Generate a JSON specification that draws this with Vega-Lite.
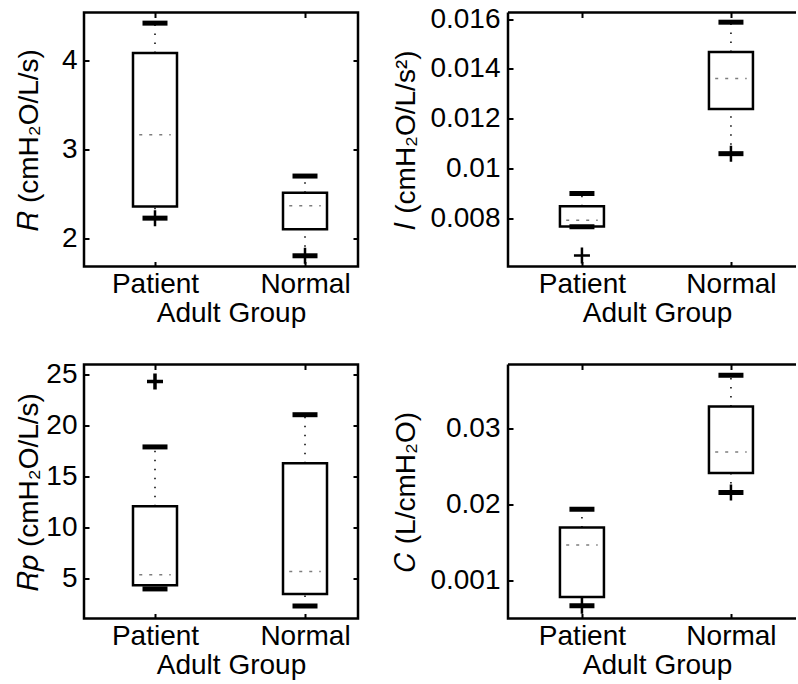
{
  "$schema": "https://vega.github.io/schema/vega-lite/v6.json",
  "background": "white",
  "padding": {"left": 13, "top": 3.5, "right": 0, "bottom": 0},
  "datasets": {
    "boxes": [
      {"panel": "R", "group": "Patient", "lo": 2.233, "q1": 2.364, "med": 3.165, "q3": 4.082, "hi": 4.415},
      {"panel": "R", "group": "Normal", "lo": 1.812, "q1": 2.11, "med": 2.372, "q3": 2.518, "hi": 2.704},
      {"panel": "I", "group": "Patient", "lo": 0.00765, "q1": 0.00766, "med": 0.00791, "q3": 0.00847, "hi": 0.00899},
      {"panel": "I", "group": "Normal", "lo": 0.01059, "q1": 0.01239, "med": 0.01361, "q3": 0.01468, "hi": 0.01588},
      {"panel": "Rp", "group": "Patient", "lo": 3.95, "q1": 4.31, "med": 5.34, "q3": 12.09, "hi": 17.92},
      {"panel": "Rp", "group": "Normal", "lo": 2.27, "q1": 3.46, "med": 5.66, "q3": 16.31, "hi": 21.09},
      {"panel": "C", "group": "Patient", "lo": 0.00662, "q1": 0.0078, "med": 0.01465, "q3": 0.01697, "hi": 0.01938},
      {"panel": "C", "group": "Normal", "lo": 0.02158, "q1": 0.02416, "med": 0.02692, "q3": 0.03293, "hi": 0.03705}
    ],
    "outliers": [
      {"panel": "R", "group": "Patient", "value": 2.233},
      {"panel": "R", "group": "Normal", "value": 1.812},
      {"panel": "I", "group": "Patient", "value": 0.00649},
      {"panel": "I", "group": "Normal", "value": 0.01059},
      {"panel": "Rp", "group": "Patient", "value": 24.35},
      {"panel": "C", "group": "Patient", "value": 0.00662},
      {"panel": "C", "group": "Normal", "value": 0.02158}
    ]
  },
  "config": {
    "font": "Liberation Sans",
    "view": {"stroke": "black", "strokeWidth": 2.5},
    "axis": {
      "labelFont": "Liberation Sans",
      "titleFont": "Liberation Sans",
      "labelFontSize": 28,
      "titleFontSize": 28,
      "labelColor": "black",
      "titleColor": "black",
      "titleFontWeight": "normal",
      "gridColor": "black",
      "gridWidth": 2,
      "gridOpacity": 1,
      "ticks": false,
      "tickSize": 0,
      "domain": false,
      "grid": true
    }
  },
  "concat": [
    {
      "width": 274, "height": 254,
      "layer": [
        {
          "data": {"name": "boxes"},
          "transform": [{"filter": "datum.panel === 'R'"}],
          "encoding": {
            "x": {"field": "group", "type": "nominal", "sort": ["Patient", "Normal"],
                  "scale": {"type": "point", "padding": 0.4133, "align": 0.5726},
                  "axis": {"title": "Adult Group", "labelAngle": 0, "gridDash": [5, 244, 5, 0], "labelPadding": 26, "labelBaseline": "alphabetic", "titleX": 147, "titleY": 55, "titleBaseline": "alphabetic", "titleAlign": "center"}}
          },
          "layer": [
            {"mark": {"type": "bar", "width": 44, "fill": "white", "stroke": "black", "strokeWidth": 2.5},
             "encoding": {"y": {"field": "q1", "type": "quantitative", "scale": {"domain": [1.692, 4.534], "nice": false, "zero": false},
                                "axis": {"title": "𝑅 (cmH₂O/L/s)", "values": [2, 3, 4], "format": "d", "gridDash": [5, 264, 5, 0], "labelPadding": 7, "titleX": -55, "titleY": 127, "titleAngle": -90, "titleBaseline": "middle", "titleAlign": "center"}},
                          "y2": {"field": "q3"}}},
            {"mark": {"type": "rule", "color": "black", "strokeWidth": 1.5, "strokeDash": [1.5, 7.5]},
             "encoding": {"y": {"field": "q3", "type": "quantitative"}, "y2": {"field": "hi"}}},
            {"mark": {"type": "rule", "color": "black", "strokeWidth": 1.5, "strokeDash": [1.5, 7.5]},
             "encoding": {"y": {"field": "lo", "type": "quantitative"}, "y2": {"field": "q1"}}},
            {"mark": {"type": "tick", "size": 31.5, "thickness": 0.01, "fill": null, "stroke": "#444", "strokeWidth": 1.5, "strokeDash": [1.5, 8.5]},
             "encoding": {"y": {"field": "med", "type": "quantitative"}}},
            {"mark": {"type": "tick", "size": 25, "thickness": 5, "color": "black", "opacity": 1},
             "encoding": {"y": {"field": "hi", "type": "quantitative"}}},
            {"mark": {"type": "tick", "size": 25, "thickness": 5, "color": "black", "opacity": 1},
             "encoding": {"y": {"field": "lo", "type": "quantitative"}}}
          ]
        },
        {
          "data": {"name": "outliers"},
          "transform": [{"filter": "datum.panel === 'R'"}],
          "mark": {"type": "point", "shape": "M-1,0H1M0,-1V1", "size": 256, "filled": false, "stroke": "black", "strokeWidth": 2.5, "opacity": 1},
          "encoding": {
            "x": {"field": "group", "type": "nominal", "sort": ["Patient", "Normal"]},
            "y": {"field": "value", "type": "quantitative"}
          }
        }
      ]
    },
    {
      "width": 288, "height": 254,
      "view": {"stroke": "black", "strokeWidth": 2.5, "strokeDash": [288, 254, 542, 0]},
      "layer": [
        {
          "data": {"name": "boxes"},
          "transform": [{"filter": "datum.panel === 'I'"}],
          "encoding": {
            "x": {"field": "group", "type": "nominal", "sort": ["Patient", "Normal"],
                  "scale": {"type": "point", "padding": 0.4664, "align": 0.532},
                  "axis": {"title": "Adult Group", "labelAngle": 0, "gridDash": [5, 244, 5, 0], "labelPadding": 26, "labelBaseline": "alphabetic", "titleX": 149, "titleY": 55, "titleBaseline": "alphabetic", "titleAlign": "center"}}
          },
          "layer": [
            {"mark": {"type": "bar", "width": 44, "fill": "white", "stroke": "black", "strokeWidth": 2.5},
             "encoding": {"y": {"field": "q1", "type": "quantitative", "scale": {"domain": [0.00605, 0.01627], "nice": false, "zero": false},
                                "axis": {"title": "𝐼 (cmH₂O/L/s²)", "values": [0.008, 0.01, 0.012, 0.014, 0.016], "format": "~g", "gridDash": [5, 2000], "labelPadding": 8, "titleX": -102, "titleY": 127, "titleAngle": -90, "titleBaseline": "middle", "titleAlign": "center"}},
                          "y2": {"field": "q3"}}},
            {"mark": {"type": "rule", "color": "black", "strokeWidth": 1.5, "strokeDash": [1.5, 7.5]},
             "encoding": {"y": {"field": "q3", "type": "quantitative"}, "y2": {"field": "hi"}}},
            {"mark": {"type": "rule", "color": "black", "strokeWidth": 1.5, "strokeDash": [1.5, 7.5]},
             "encoding": {"y": {"field": "lo", "type": "quantitative"}, "y2": {"field": "q1"}}},
            {"mark": {"type": "tick", "size": 31.5, "thickness": 0.01, "fill": null, "stroke": "#444", "strokeWidth": 1.5, "strokeDash": [1.5, 8.5]},
             "encoding": {"y": {"field": "med", "type": "quantitative"}}},
            {"mark": {"type": "tick", "size": 25, "thickness": 5, "color": "black", "opacity": 1},
             "encoding": {"y": {"field": "hi", "type": "quantitative"}}},
            {"mark": {"type": "tick", "size": 25, "thickness": 5, "color": "black", "opacity": 1},
             "encoding": {"y": {"field": "lo", "type": "quantitative"}}}
          ]
        },
        {
          "data": {"name": "outliers"},
          "transform": [{"filter": "datum.panel === 'I'"}],
          "mark": {"type": "point", "shape": "M-1,0H1M0,-1V1", "size": 256, "filled": false, "stroke": "black", "strokeWidth": 2.5, "opacity": 1},
          "encoding": {
            "x": {"field": "group", "type": "nominal", "sort": ["Patient", "Normal"]},
            "y": {"field": "value", "type": "quantitative"}
          }
        }
      ]
    },
    {
      "width": 274, "height": 254,
      "layer": [
        {
          "data": {"name": "boxes"},
          "transform": [{"filter": "datum.panel === 'Rp'"}],
          "encoding": {
            "x": {"field": "group", "type": "nominal", "sort": ["Patient", "Normal"],
                  "scale": {"type": "point", "padding": 0.4133, "align": 0.5726},
                  "axis": {"title": "Adult Group", "labelAngle": 0, "gridDash": [5, 244, 5, 0], "labelPadding": 26, "labelBaseline": "alphabetic", "titleX": 147, "titleY": 55, "titleBaseline": "alphabetic", "titleAlign": "center"}}
          },
          "layer": [
            {"mark": {"type": "bar", "width": 44, "fill": "white", "stroke": "black", "strokeWidth": 2.5},
             "encoding": {"y": {"field": "q1", "type": "quantitative", "scale": {"domain": [1.04, 26.03], "nice": false, "zero": false},
                                "axis": {"title": "𝑅𝑝 (cmH₂O/L/s)", "values": [5, 10, 15, 20, 25], "gridDash": [5, 264, 5, 0], "labelPadding": 7, "titleX": -55, "titleY": 127, "titleAngle": -90, "titleBaseline": "middle", "titleAlign": "center"}},
                          "y2": {"field": "q3"}}},
            {"mark": {"type": "rule", "color": "black", "strokeWidth": 1.5, "strokeDash": [1.5, 7.5]},
             "encoding": {"y": {"field": "q3", "type": "quantitative"}, "y2": {"field": "hi"}}},
            {"mark": {"type": "rule", "color": "black", "strokeWidth": 1.5, "strokeDash": [1.5, 7.5]},
             "encoding": {"y": {"field": "lo", "type": "quantitative"}, "y2": {"field": "q1"}}},
            {"mark": {"type": "tick", "size": 31.5, "thickness": 0.01, "fill": null, "stroke": "#444", "strokeWidth": 1.5, "strokeDash": [1.5, 8.5]},
             "encoding": {"y": {"field": "med", "type": "quantitative"}}},
            {"mark": {"type": "tick", "size": 25, "thickness": 5, "color": "black", "opacity": 1},
             "encoding": {"y": {"field": "hi", "type": "quantitative"}}},
            {"mark": {"type": "tick", "size": 25, "thickness": 5, "color": "black", "opacity": 1},
             "encoding": {"y": {"field": "lo", "type": "quantitative"}}}
          ]
        },
        {
          "data": {"name": "outliers"},
          "transform": [{"filter": "datum.panel === 'Rp'"}],
          "mark": {"type": "point", "shape": "M-1,0H1M0,-1V1", "size": 256, "filled": false, "stroke": "black", "strokeWidth": 3.5, "opacity": 1},
          "encoding": {
            "x": {"field": "group", "type": "nominal", "sort": ["Patient", "Normal"]},
            "y": {"field": "value", "type": "quantitative"}
          }
        }
      ]
    },
    {
      "width": 288, "height": 254,
      "view": {"stroke": "black", "strokeWidth": 2.5, "strokeDash": [288, 254, 542, 0]},
      "layer": [
        {
          "data": {"name": "boxes"},
          "transform": [{"filter": "datum.panel === 'C'"}],
          "encoding": {
            "x": {"field": "group", "type": "nominal", "sort": ["Patient", "Normal"],
                  "scale": {"type": "point", "padding": 0.4664, "align": 0.532},
                  "axis": {"title": "Adult Group", "labelAngle": 0, "gridDash": [5, 244, 5, 0], "labelPadding": 26, "labelBaseline": "alphabetic", "titleX": 149, "titleY": 55, "titleBaseline": "alphabetic", "titleAlign": "center"}}
          },
          "layer": [
            {"mark": {"type": "bar", "width": 44, "fill": "white", "stroke": "black", "strokeWidth": 2.5},
             "encoding": {"y": {"field": "q1", "type": "quantitative", "scale": {"domain": [0.00495, 0.03847], "nice": false, "zero": false},
                                "axis": {"title": "𝐶 (L/cmH₂O)", "values": [0.01, 0.02, 0.03], "labelExpr": "datum.value < 0.015 ? '0.001' : format(datum.value, '~g')", "gridDash": [5, 2000], "labelPadding": 8, "titleX": -102, "titleY": 127, "titleAngle": -90, "titleBaseline": "middle", "titleAlign": "center"}},
                          "y2": {"field": "q3"}}},
            {"mark": {"type": "rule", "color": "black", "strokeWidth": 1.5, "strokeDash": [1.5, 7.5]},
             "encoding": {"y": {"field": "q3", "type": "quantitative"}, "y2": {"field": "hi"}}},
            {"mark": {"type": "rule", "color": "black", "strokeWidth": 1.5, "strokeDash": [1.5, 7.5]},
             "encoding": {"y": {"field": "lo", "type": "quantitative"}, "y2": {"field": "q1"}}},
            {"mark": {"type": "tick", "size": 31.5, "thickness": 0.01, "fill": null, "stroke": "#444", "strokeWidth": 1.5, "strokeDash": [1.5, 8.5]},
             "encoding": {"y": {"field": "med", "type": "quantitative"}}},
            {"mark": {"type": "tick", "size": 25, "thickness": 5, "color": "black", "opacity": 1},
             "encoding": {"y": {"field": "hi", "type": "quantitative"}}},
            {"mark": {"type": "tick", "size": 25, "thickness": 5, "color": "black", "opacity": 1},
             "encoding": {"y": {"field": "lo", "type": "quantitative"}}}
          ]
        },
        {
          "data": {"name": "outliers"},
          "transform": [{"filter": "datum.panel === 'C'"}],
          "mark": {"type": "point", "shape": "M-1,0H1M0,-1V1", "size": 256, "filled": false, "stroke": "black", "strokeWidth": 2.5, "opacity": 1},
          "encoding": {
            "x": {"field": "group", "type": "nominal", "sort": ["Patient", "Normal"]},
            "y": {"field": "value", "type": "quantitative"}
          }
        }
      ]
    }
  ],
  "columns": 2,
  "spacing": {"row": 98, "column": 150},
  "bounds": "flush",
  "align": "each"
}
